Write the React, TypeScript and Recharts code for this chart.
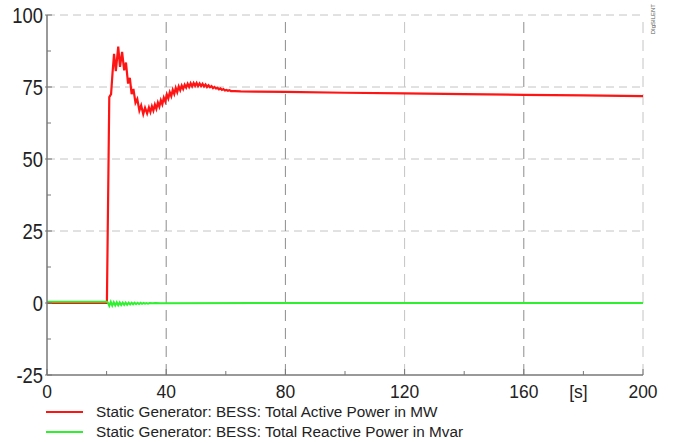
import React from 'react';
import { LineChart, Line, XAxis, YAxis, ReferenceLine, Legend } from 'recharts';

const activeTime = [
  0, 20.1, 20.9, 21.5, 22.0, 22.5, 23.1, 23.9, 24.5, 25.2, 25.9, 26.5, 27.2, 27.8, 28.4, 29.0, 29.7, 30.3, 31.0, 31.6,
  32.3, 32.9, 33.6, 34.2, 34.7, 35.2, 35.7, 36.2, 36.7, 37.2, 37.7, 38.2, 38.7, 39.2, 39.7, 40.2, 40.7, 41.2, 41.7,
  42.2, 42.7, 43.2, 43.7, 44.2, 44.7, 45.2, 45.7, 46.2, 46.7, 47.2, 47.7, 48.2, 48.7, 49.2, 49.7, 50.2, 50.7, 51.2,
  51.7, 52.2, 52.7, 53.2, 53.7, 54.2, 54.7, 55.2, 55.7, 56.2, 56.7, 57.2, 57.7, 58.2, 58.7, 59.2, 59.7, 60.2, 60.7,
  61.2, 61.7, 63, 65, 70, 80, 100, 120, 140, 160, 180, 200,
];
const activePower = [
  0, 0, 71.5, 72.5, 80, 86.5, 80.5, 89, 82, 87.2, 80.8, 83.5, 76.2, 78.2, 72.5, 74.3, 69.5, 70.8, 66.8, 68.6,
  65.6, 67.8, 65.8, 67.9, 66.3, 68.3, 66.8, 68.9, 67.4, 69.6, 68.2, 70.4, 69.0, 71.3, 70.0, 72.4, 71.0, 73.2, 71.8,
  74.0, 72.6, 74.7, 73.2, 75.2, 73.9, 75.5, 74.3, 75.8, 74.8, 76.1, 75.0, 76.3, 75.2, 76.4, 75.4, 76.4, 75.3, 76.2,
  75.3, 76.1, 75.2, 75.9, 75.0, 75.6, 74.9, 75.3, 74.6, 75.0, 74.5, 74.7, 74.2, 74.5, 74.0, 74.3, 73.8, 74.0, 73.7,
  73.9, 73.6, 73.6, 73.5, 73.4, 73.3, 73.0, 72.8, 72.5, 72.3, 72.1, 71.8,
];

const reactiveTime = [
  0, 20.1, 20.4, 20.9, 21.4, 21.9, 22.4, 22.9, 23.4, 23.9, 24.4, 24.9, 25.4, 25.9, 26.4, 26.9, 27.4, 27.9, 28.4,
  28.9, 29.4, 29.9, 30.4, 30.9, 31.4, 31.9, 32.4, 32.9, 33.4, 33.9, 34.4, 35.4, 36.4, 38, 200,
];
const reactivePower = [
  0.4, 0.4, 0.2, -1.0, 0.4, -0.9, 0.3, -0.85, 0.25, -0.8, 0.2, -0.7, 0.15, -0.65, 0.15, -0.6, 0.1, -0.5, 0.1,
  -0.45, 0.1, -0.4, 0.05, -0.35, 0.05, -0.3, 0, -0.25, 0, -0.2, 0, -0.12, 0, -0.05, 0,
];

const yTicks = [-25, -12.5, 0, 12.5, 25, 37.5, 50, 62.5, 75, 87.5, 100];
const yMajor = [-25, 0, 25, 50, 75, 100];
const xTicks = [0, 20, 40, 60, 80, 100, 120, 140, 160, 180, 200];
const xMajor = [0, 40, 80, 120, 160, 200];
const hGrid = [25, 50, 75, 100];
const vGrid = [40, 80, 120, 160, 200];
const vGridDark = [40, 80, 160];
const unitTick = 180;
const unitLabel = '[s]';
const seriesNames = [
  'Static Generator: BESS: Total Active Power in MW',
  'Static Generator: BESS: Total Reactive Power in Mvar',
];

const activeData = activeTime.map((t, i) => ({ t, p: activePower[i] }));
const reactiveData = reactiveTime.map((t, i) => ({ t, q: reactivePower[i] }));

const FONT = "'Liberation Sans', Arial, sans-serif";
const RED = '#ff1414';
const GREEN = '#2ef02e';

const YTick = (props: any) => {
  const { x, y, payload } = props;
  const v = payload.value;
  const major = yMajor.includes(v);
  const ax = x + 4;
  return (
    <g>
      <line x1={ax - (major ? 2 : 0)} x2={ax + (major ? 5 : 4)} y1={y} y2={y} stroke="#777" strokeWidth={1} />
      {major && (
        <text
          transform={`translate(${x} ${y + 7.6}) scale(0.86 1)`}
          textAnchor="end"
          fontSize={21.4}
          fontFamily={FONT}
          fill="#222"
        >
          {v}
        </text>
      )}
    </g>
  );
};

const XTick = (props: any) => {
  const { x, y, payload } = props;
  const v = payload.value;
  const major = xMajor.includes(v);
  return (
    <g>
      <line x1={x} x2={x} y1={y} y2={y - (major ? 6 : 4)} stroke="#777" strokeWidth={1} />
      {major && (
        <text
          transform={`translate(${x} ${y + 23.3}) scale(0.92 1)`}
          textAnchor="middle"
          fontSize={19}
          fontFamily={FONT}
          fill="#222"
        >
          {v}
        </text>
      )}
      {v === unitTick && (
        <text
          transform={`translate(${x - 5} ${y + 23.3}) scale(0.92 1)`}
          textAnchor="middle"
          fontSize={19}
          fontFamily={FONT}
          fill="#222"
        >
          {unitLabel}
        </text>
      )}
    </g>
  );
};

const LegendContent = () => (
  <div style={{ width: 676, height: 43, position: 'relative', fontFamily: FONT, fontSize: 15.3, color: '#222' }}>
    {seriesNames.map((name, i) => (
      <div
        key={name}
        style={{ position: 'absolute', left: 46, top: 1.5 + i * 20, height: 20, display: 'flex', alignItems: 'center' }}
      >
        <svg width={37} height={4} style={{ display: 'block' }}>
          <line x1={0} x2={37} y1={2} y2={2} stroke={i === 0 ? RED : GREEN} strokeWidth={2} />
        </svg>
        <span style={{ marginLeft: 13, whiteSpace: 'nowrap', lineHeight: '20px' }}>{name}</span>
      </div>
    ))}
  </div>
);

export default function App() {
  return (
    <div style={{ position: 'relative', width: 676, height: 443, background: '#fff' }}>
      <style>{'body{margin:0;overflow:hidden;background:#fff;}'}</style>
      <LineChart width={676} height={443} margin={{ top: 15, right: 33, left: 0, bottom: 0 }}>
        <XAxis
          type="number"
          dataKey="t"
          domain={[0, 200]}
          ticks={xTicks}
          interval={0}
          allowDataOverflow
          height={25}
          tickSize={0}
          tickMargin={0}
          tick={<XTick />}
          axisLine={{ stroke: '#777', strokeWidth: 1.5 }}
          tickLine={false}
        />
        <YAxis
          type="number"
          domain={[-25, 100]}
          ticks={yTicks}
          interval={0}
          allowDataOverflow
          width={47}
          tickSize={0}
          tickMargin={4}
          tick={<YTick />}
          axisLine={{ stroke: '#777', strokeWidth: 1.5 }}
          tickLine={false}
        />
        {hGrid.map((v) => (
          <ReferenceLine key={'h' + v} y={v} stroke="#c4c4c4" strokeDasharray="8 5" strokeWidth={1} />
        ))}
        {vGrid.map((v) => (
          <ReferenceLine
            key={'v' + v}
            x={v}
            stroke={vGridDark.includes(v) ? '#8c8c8c' : '#c4c4c4'}
            strokeDasharray="11 7"
            strokeWidth={1}
          />
        ))}
        <Line
          data={activeData}
          dataKey="p"
          type="linear"
          stroke={RED}
          strokeWidth={2.2}
          dot={false}
          isAnimationActive={false}
        />
        <Line
          data={reactiveData}
          dataKey="q"
          type="linear"
          stroke={GREEN}
          strokeWidth={2}
          dot={false}
          isAnimationActive={false}
        />
        <Legend verticalAlign="bottom" height={43} wrapperStyle={{ left: 0, width: 676 }} content={<LegendContent />} />
      </LineChart>
      <div
        style={{
          position: 'absolute',
          left: 650,
          top: 4,
          fontSize: 6,
          fontFamily: FONT,
          color: '#555',
          writingMode: 'vertical-rl',
          transform: 'rotate(180deg)',
          whiteSpace: 'nowrap',
          lineHeight: '7px',
        }}
      >
        DIgSILENT
      </div>
    </div>
  );
}
